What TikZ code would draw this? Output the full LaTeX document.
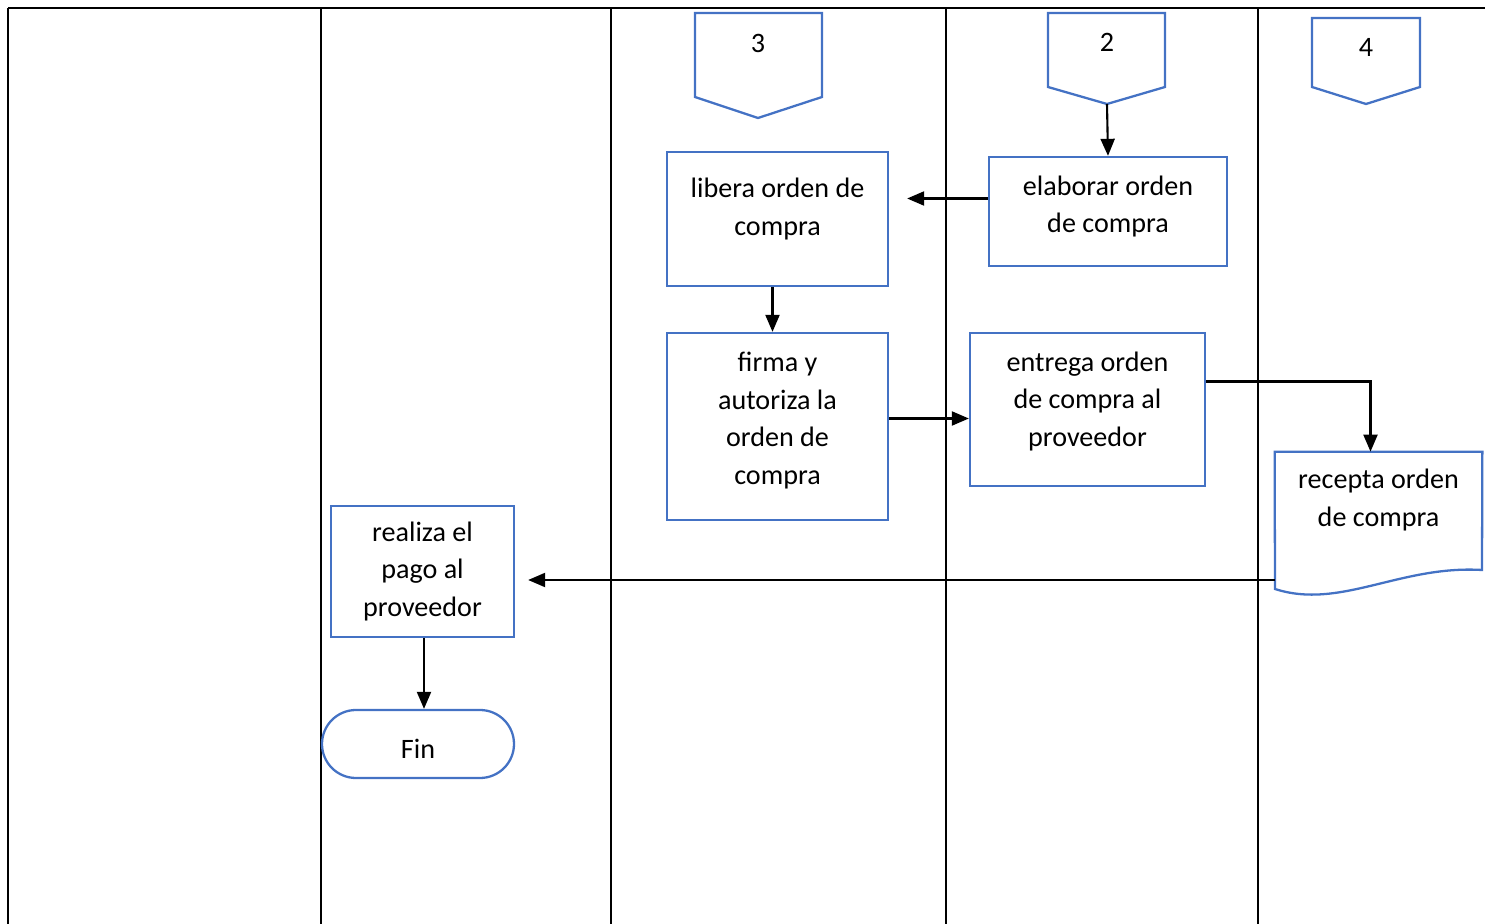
\documentclass[tikz,border=0pt]{standalone}
\usepackage{fontspec}
\setmainfont{Carlito}
\usepackage{xcolor}
\usetikzlibrary{arrows.meta}
\usetikzlibrary{positioning}

\definecolor{flowblue}{HTML}{4472C4}

\begin{document}
\begin{tikzpicture}[x=0.2mm, y=-0.2mm,
    every node/.style={font=\fontsize{16}{21.3}\selectfont, align=center, inner sep=0pt},
    lane/.style={line width=1.2pt},
    outline/.style={draw=flowblue, line width=1.3pt},
    procbox/.style={outline, minimum width=#1},
    flow/.style={-{Triangle[length=3.4mm, width=2.8mm]}, line width=1.2pt}]
    \useasboundingbox (0,0) rectangle (1485,924);

    % swimlanes
    \draw[lane, line width=1.6pt] (8,8) -- (1485,8);
    \foreach \x in {8,321,611,946,1258}
        \draw[lane] (\x,8) -- (\x,924);

    % off-page connectors
    \draw[outline] (695,13) -- (822,13) -- (822,97) -- (758,118) -- (695,97) -- cycle;
    \node (off3) at (758,43) {3};
    \draw[outline] (1048,13) -- (1165,13) -- (1165,87) -- (1107,104) -- (1048,87) -- cycle;
    \node (off2) at (1107,42) {2};
    \coordinate (off2tip) at (1107,104);
    \draw[outline] (1312,18) -- (1420,18) -- (1420,87) -- (1366,104) -- (1312,87) -- cycle;
    \node (off4) at (1366,47) {4};

    % process boxes (text set as centre labels, a bit above the middle)
    \node[procbox=44.2mm, minimum height=26.8mm, label={[yshift=2mm]center:libera orden de\\compra}] (libera) at (777.5,219) {};
    \node[procbox=47.6mm, minimum height=21.8mm, label={[yshift=1mm]center:elaborar orden\\de compra}] (elab) at (1108,211.5) {};
    \node[procbox=44.2mm, minimum height=37.4mm, label={[yshift=1.2mm]center:firma y\\autoriza la\\orden de\\compra}] (firma) at (777.5,426.5) {};
    \node[procbox=47mm, minimum height=30.6mm, label={[yshift=1.6mm]center:entrega orden\\de compra al\\proveedor}] (entrega) at (1087.5,409.5) {};
    \node[procbox=36.6mm, minimum height=26.2mm] (realiza) at (422.5,571.5) {realiza el\\pago al\\proveedor};
    \node[outline, minimum width=38.4mm, minimum height=13.6mm, rounded corners=6.8mm,
        label={[yshift=-1mm]center:Fin}] (fin) at (418,744) {};

    % document shape
    \node[minimum width=41.4mm, minimum height=19.2mm] (recepta) at (1378.5,500) {recepta orden\\de compra};
    \draw[outline] (recepta.north west) -- (recepta.north east) -- (1482,570)
        .. controls (1400,565) and (1340,610) .. (1275,589) -- cycle;

    % connectors
    \draw[flow] (off2tip) -- (elab.north);
    \draw[flow, shorten >=3.6mm] ([yshift=2.6mm]elab.west) -- ([yshift=2.6mm]elab.west -| libera.east);
    \draw[flow] ([xshift=-1mm]libera.south) -- ([xshift=-1mm]firma.north);
    \draw[flow] ([yshift=1.6mm]firma.east) -- ([yshift=1.6mm]firma.east -| entrega.west);
    \draw[flow] ([yshift=5.6mm]entrega.east) -| ([xshift=-1.6mm]recepta.north);
    \draw[flow, shorten >=2.6mm] ([yshift=-16mm]recepta.west) -- ([yshift=-16mm]recepta.west -| realiza.east);
    \draw[flow] ([xshift=0.3mm]realiza.south) -- ([xshift=0.3mm]realiza.south |- fin.north);
\end{tikzpicture}
\end{document}
